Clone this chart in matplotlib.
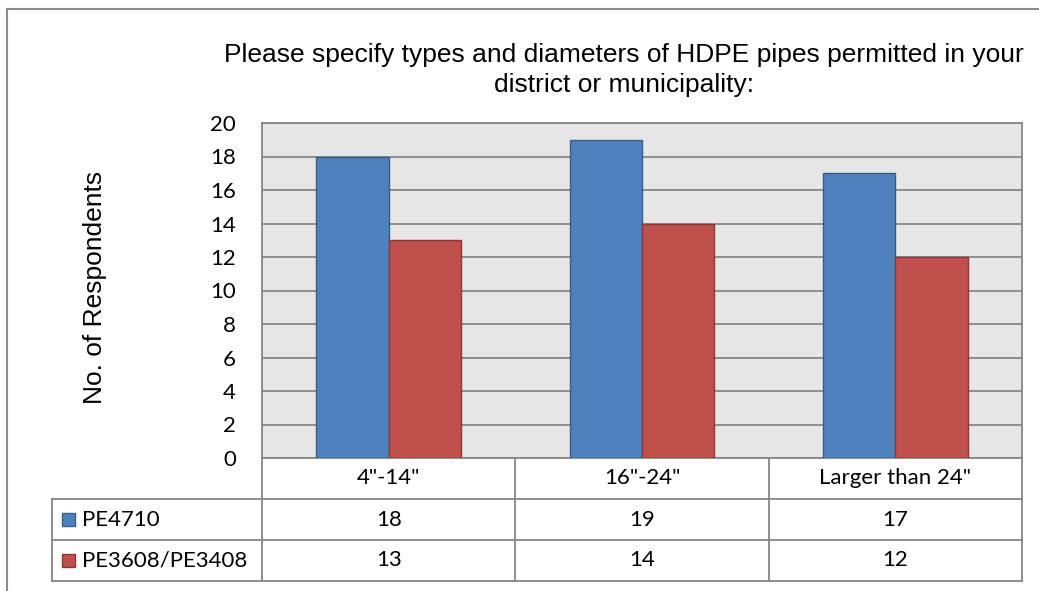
import numpy as np
import matplotlib.pyplot as plt
from matplotlib.patches import Rectangle
from matplotlib.lines import Line2D

# Survey data
categories = ['4"-14"', '16"-24"', 'Larger than 24"']
series_names = ['PE4710', 'PE3608/PE3408']
pe4710 = [18, 19, 17]
pe3608 = [13, 14, 12]

fills = ['#4f81bd', '#c0504d']
edges = ['#385d8a', '#8c3836']
grid_col = '#868686'

W, H = 1039, 591
fig = plt.figure(figsize=(W / 100, H / 100), dpi=100)
fig.patch.set_facecolor('white')


def fx(px):
    return px / W


def fy(py):
    return 1 - py / H


# outer chart frame (runs off the right and bottom edge)
fig.add_artist(Line2D([fx(7), fx(1045)], [fy(9), fy(9)], color='#8c8c8c', lw=1.5))
fig.add_artist(Line2D([fx(7), fx(7)], [fy(9), fy(600)], color='#8c8c8c', lw=1.5))

# plot area
left, right, top, bottom = 262, 1022, 123, 458
ax = fig.add_axes([fx(left), fy(bottom), fx(right - left), (bottom - top) / H])
ax.set_facecolor('#e6e6e6')

x = np.arange(len(categories))
bw = 1 / 3.5
ax.bar(x - bw / 2, pe4710, bw, color=fills[0], edgecolor=edges[0], lw=1, zorder=3)
ax.bar(x + bw / 2, pe3608, bw, color=fills[1], edgecolor=edges[1], lw=1, zorder=3)

ax.set_xlim(-0.5, 2.5)
ax.set_ylim(0, 20)
ax.set_yticks(range(0, 21, 2))
ax.yaxis.grid(True, color=grid_col, lw=1.3, zorder=0)
ax.set_xticks([])
ax.tick_params(axis='y', length=0, pad=18.7)
for lab in ax.get_yticklabels():
    lab.set_fontfamily('Lato')
    lab.set_fontsize(16)
for s in ax.spines.values():
    s.set_color(grid_col)
    s.set_linewidth(1.3)

fig.text(fx(95), fy(287), 'No. of Respondents', rotation=90, ha='center', va='center',
         fontfamily='Liberation Sans', fontsize=19)

fig.text(fx(624), fy(62), 'Please specify types and diameters of HDPE pipes permitted in your',
         ha='center', va='baseline', fontfamily='Liberation Sans', fontsize=19)
fig.text(fx(624), fy(92), 'district or municipality:',
         ha='center', va='baseline', fontfamily='Liberation Sans', fontsize=19)

# data table under the plot, sharing the category scale
tleft, tbottom = 52, 581
unit = (right - left) / len(categories)
x0 = -0.5 - (left - tleft) / unit
tax = fig.add_axes([fx(tleft), fy(tbottom), fx(right - tleft), (tbottom - bottom) / H])
tax.set_xlim(x0, 2.5)
tax.set_ylim(3, 0)
tax.axis('off')

lk = dict(color=grid_col, lw=1.3, clip_on=False)
for r in (1, 2, 3):
    tax.plot([x0, 2.5], [r, r], **lk)
tax.plot([x0, x0], [1, 3], **lk)
for c in np.arange(-0.5, 2.6, 1):
    tax.plot([c, c], [0, 3], **lk)

tfont = dict(ha='center', va='center', fontfamily='Lato', fontsize=16)
for i, cat in enumerate(categories):
    tax.text(i, 0.5, cat, **tfont)
for r, vals in enumerate([pe4710, pe3608], start=1):
    for i, v in enumerate(vals):
        tax.text(i, r + 0.5, str(v), **tfont)

# legend keys in the row headers
key = 13 / unit
for r, name in enumerate(series_names, start=1):
    tax.add_patch(Rectangle((x0 + 10 / unit, r + 0.5 - 0.16), key, 0.32,
                            facecolor=fills[r - 1], edgecolor=edges[r - 1], lw=1))
    tax.text(x0 + 30 / unit, r + 0.5, name, ha='left', va='center',
             fontfamily='Lato', fontsize=16)

fig.savefig('out.png', dpi=100)
